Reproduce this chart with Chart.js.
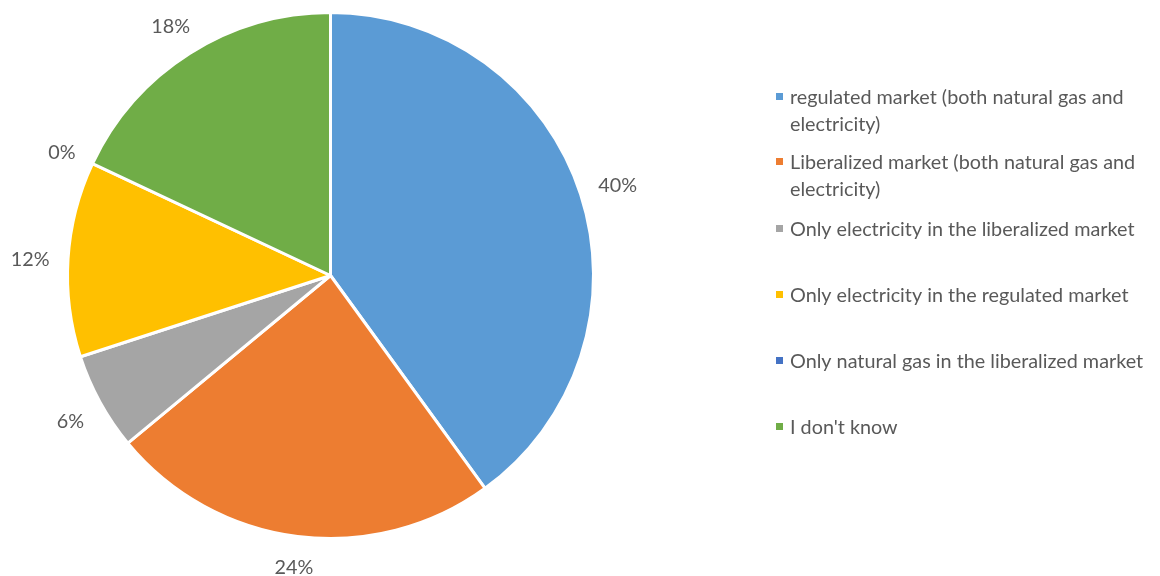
<!DOCTYPE html>
<html>
<head>
<meta charset="utf-8">
<script src="https://cdn.jsdelivr.net/npm/chart.js@4.4.1/dist/chart.umd.min.js"></script>
<style>
  html, body { margin: 0; padding: 0; background: #ffffff; }
  #wrap { position: relative; width: 1160px; height: 576px; }
</style>
</head>
<body>
<div id="wrap"><canvas id="chart" width="1160" height="576"></canvas></div>
<script>
// Survey answers: which market the household is supplied on
const categories = [
  "regulated market (both natural gas and electricity)",
  "Liberalized market (both natural gas and electricity)",
  "Only electricity in the liberalized market",
  "Only electricity in the regulated market",
  "Only natural gas in the liberalized market",
  "I don't know"
];
const shares = [40, 24, 6, 12, 0, 18];
const sliceColors = ["#5B9BD5", "#ED7D31", "#A5A5A5", "#FFC000", "#4472C4", "#70AD47"];

const FONT = "Lato, 'Open Sans', sans-serif";
const FONT_SIZE = 19.8;
const TEXT_COLOR = "#595959";

// Percentage labels placed just outside each slice
const outsideLabels = {
  id: "outsideLabels",
  afterDatasetsDraw(chart) {
    const ctx = chart.ctx;
    const meta = chart.getDatasetMeta(0);
    ctx.save();
    ctx.font = FONT_SIZE + "px " + FONT;
    ctx.fillStyle = TEXT_COLOR;
    ctx.textAlign = "center";
    ctx.textBaseline = "middle";
    meta.data.forEach((arc, i) => {
      const p = arc.getProps(["x", "y", "startAngle", "endAngle", "outerRadius"], true);
      const mid = (p.startAngle + p.endAngle) / 2;
      const dx = Math.cos(mid), dy = Math.sin(mid);
      const text = shares[i] + "%";
      const w = ctx.measureText(text).width, h = 16;
      const dist = p.outerRadius + 18 + Math.abs(dx) * w / 2 + Math.abs(dy) * h / 2;
      ctx.fillText(text, p.x + dx * dist, p.y + dy * dist + 3);
    });
    ctx.restore();
  }
};

// Legend on the right, with wrapped entries
const sideLegend = {
  id: "sideLegend",
  afterDraw(chart) {
    const ctx = chart.ctx;
    ctx.save();
    ctx.font = FONT_SIZE + "px " + FONT;
    ctx.textBaseline = "middle";
    ctx.textAlign = "left";
    const left = 790, maxW = 362, lineH = 26.5;
    const rows = [97, 162, 229, 295, 361, 427];
    categories.forEach((label, i) => {
      const words = label.split(" ");
      const lines = [];
      let cur = "";
      words.forEach(wd => {
        const test = cur ? cur + " " + wd : wd;
        if (ctx.measureText(test).width > maxW && cur) { lines.push(cur); cur = wd; }
        else cur = test;
      });
      if (cur) lines.push(cur);
      const y0 = rows[i];
      ctx.fillStyle = sliceColors[i];
      ctx.fillRect(left - 14, y0 - 4, 7, 7);
      ctx.fillStyle = TEXT_COLOR;
      lines.forEach((ln, k) => ctx.fillText(ln, left, y0 + k * lineH + 1));
    });
    ctx.restore();
  }
};

new Chart(document.getElementById("chart"), {
  type: "pie",
  data: {
    labels: categories,
    datasets: [{
      data: shares,
      backgroundColor: sliceColors,
      borderColor: "#ffffff",
      borderWidth: 3
    }]
  },
  options: {
    responsive: false,
    animation: false,
    layout: { padding: { left: 66, right: 565, top: 11, bottom: 36 } },
    plugins: {
      legend: { display: false },
      tooltip: { enabled: false }
    }
  },
  plugins: [outsideLabels, sideLegend]
});
</script>
</body>
</html>
